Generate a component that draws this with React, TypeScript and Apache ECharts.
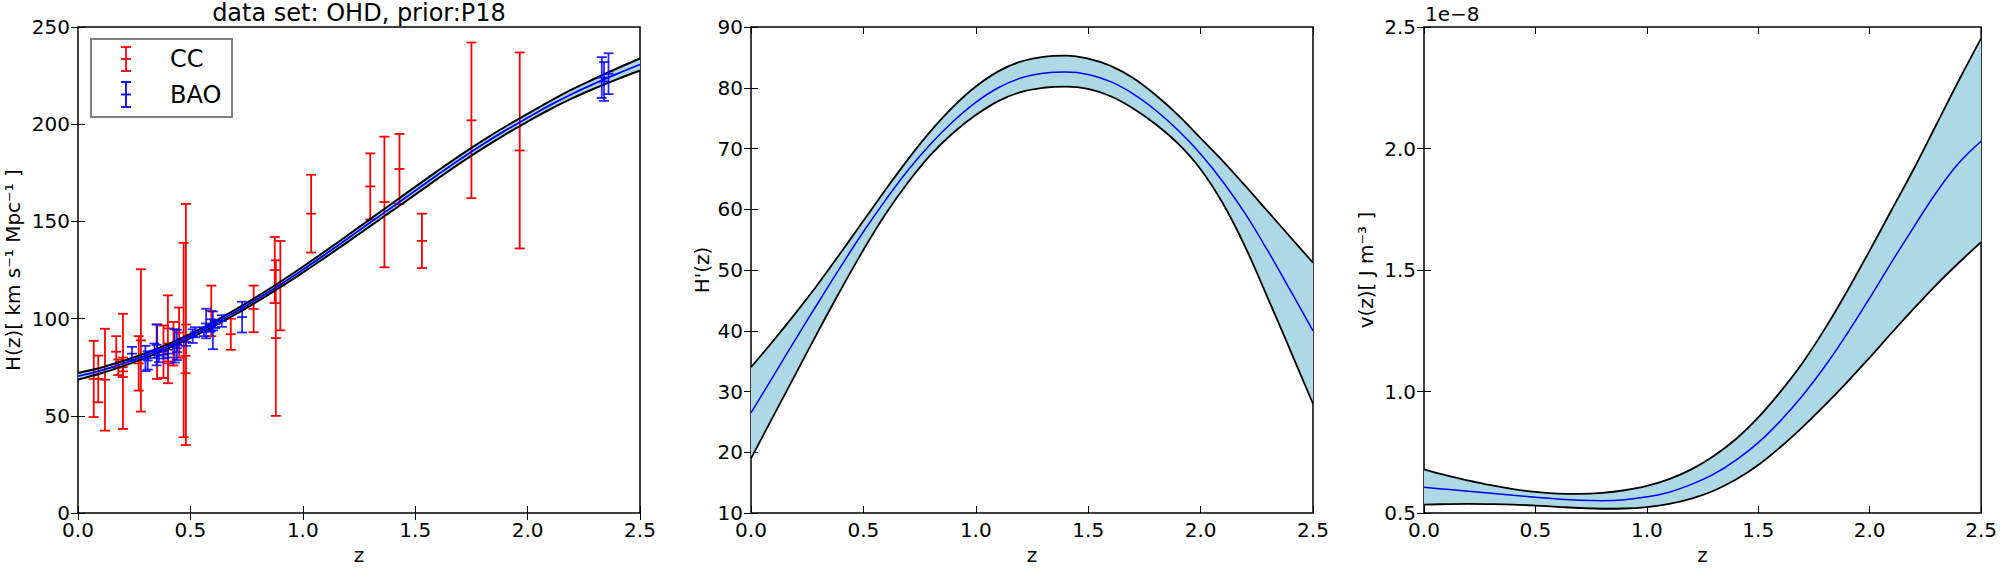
import React, { useEffect, useRef } from "react";
import * as echarts from "echarts";

// ---------- data ----------
const Z_GRID = [0, 0.1, 0.2, 0.3, 0.4, 0.5, 0.6, 0.7, 0.8, 0.9, 1.0, 1.1, 1.2, 1.3, 1.4, 1.5, 1.6, 1.7, 1.8, 1.9, 2.0, 2.1, 2.2, 2.3, 2.4, 2.5];

// Panel 1: reconstructed H(z)
const H_MEAN = [70.4, 73.3, 76.9, 81.0, 85.8, 91.1, 97.0, 103.4, 110.3, 117.6, 125.2, 133.1, 141.2, 149.4, 157.6, 165.8, 174.0, 182.0, 189.6, 196.7, 203.3, 209.8, 215.7, 221.0, 226.0, 230.7];
const H_UPPER = [72.1, 74.8, 78.2, 82.2, 86.9, 92.2, 98.1, 104.6, 111.6, 119.0, 126.7, 134.7, 142.9, 151.2, 159.5, 167.8, 176.0, 184.0, 191.6, 198.7, 205.3, 211.9, 218.0, 223.5, 228.8, 233.8];
const H_LOWER = [68.7, 71.8, 75.6, 79.8, 84.7, 90.0, 95.9, 102.2, 109.0, 116.2, 123.7, 131.5, 139.5, 147.6, 155.7, 163.8, 172.0, 180.0, 187.6, 194.7, 201.3, 207.7, 213.4, 218.5, 223.2, 227.6];

// CC data points
const CC_Z = [0.07, 0.09, 0.12, 0.17, 0.1791, 0.1993, 0.2, 0.27, 0.28, 0.3519, 0.3802, 0.4, 0.4004, 0.4247, 0.4497, 0.47, 0.4783, 0.48, 0.5929, 0.6797, 0.7812, 0.8754, 0.88, 0.9, 1.037, 1.3, 1.363, 1.43, 1.53, 1.75, 1.965];
const CC_H = [69, 69, 68.6, 83, 75, 75, 72.9, 77, 88.8, 83, 83, 95, 77, 87.1, 92.8, 89, 80.9, 97, 104, 92, 105, 125, 90, 117, 154, 168, 160, 177, 140, 202, 186.5];
const CC_ERR = [19.6, 12, 26.2, 8, 4, 5, 29.6, 14, 36.6, 14, 13.5, 17, 10.2, 11.2, 12.9, 50, 9, 62, 13, 8, 12, 17, 40, 23, 20, 17, 33.6, 18, 14, 40, 50.4];

// BAO data points
const BAO_Z = [0.24, 0.3, 0.31, 0.34, 0.35, 0.36, 0.38, 0.4, 0.43, 0.44, 0.44, 0.48, 0.51, 0.52, 0.56, 0.57, 0.59, 0.6, 0.61, 0.64, 0.73, 2.33, 2.34, 2.36];
const BAO_H = [82.0, 79.5, 78.5, 83.5, 86.5, 81.0, 81.5, 82.0, 86.0, 84.8, 86.5, 88.0, 91.0, 93.0, 93.3, 97.5, 96.5, 94.0, 97.3, 98.8, 100.8, 224, 222, 226];
const BAO_ERR = [3.5, 6.5, 4.7, 3.7, 10.5, 3.4, 2.0, 2.0, 8.6, 2.0, 7.8, 2.0, 3.5, 2.6, 2.3, 7.6, 3.2, 9.7, 2.1, 3.0, 7.9, 10.5, 10, 10.5];

// Panel 2: H'(z)
const DH_MEAN = [26.5, 32.6, 38.7, 44.7, 50.6, 56.3, 61.6, 66.5, 70.8, 74.5, 77.6, 80.0, 81.6, 82.4, 82.6, 82.2, 81.0, 79.0, 76.3, 73.0, 69.1, 64.5, 59.2, 53.1, 46.6, 40];
const DH_UPPER = [34, 38.4, 43.0, 47.8, 52.9, 58.1, 63.3, 68.3, 72.9, 76.9, 80.2, 82.7, 84.3, 85.1, 85.3, 84.8, 83.6, 81.6, 78.8, 75.5, 71.7, 67.9, 63.8, 59.6, 55.4, 51.2];
const DH_LOWER = [19, 26, 33, 40, 46.8, 53.3, 59.3, 64.5, 69.0, 72.6, 75.5, 77.8, 79.3, 80.0, 80.2, 79.8, 78.6, 76.6, 74.0, 70.8, 66.6, 60.9, 53.7, 45.3, 36.7, 28];

// Panel 3: v(z), in units of 1e-8 J m^-3
const V_MEAN = [0.606, 0.598, 0.59, 0.582, 0.573, 0.565, 0.558, 0.553, 0.551, 0.555, 0.567, 0.586, 0.618, 0.66, 0.718, 0.79, 0.88, 0.985, 1.105, 1.24, 1.385, 1.535, 1.68, 1.82, 1.94, 2.03];
const V_UPPER = [0.68, 0.655, 0.634, 0.615, 0.599, 0.587, 0.58, 0.579, 0.583, 0.594, 0.612, 0.64, 0.68, 0.735, 0.805, 0.894, 1.0, 1.12, 1.26, 1.415, 1.58, 1.75, 1.92, 2.1, 2.28, 2.453];
const V_LOWER = [0.535, 0.537, 0.538, 0.537, 0.535, 0.531, 0.526, 0.521, 0.518, 0.519, 0.525, 0.538, 0.56, 0.592, 0.638, 0.698, 0.772, 0.855, 0.945, 1.04, 1.14, 1.243, 1.343, 1.44, 1.53, 1.615];

const X_TICKS = { min: 0, max: 2.5, interval: 0.5 };
const Y1_TICKS = { min: 0, max: 250, interval: 50 };
const Y2_TICKS = { min: 10, max: 90, interval: 10 };
const Y3_TICKS = { min: 0.5, max: 2.5, interval: 0.5 };

// ---------- styling ----------
const FONT = "DejaVu Sans";
const BAND = "#add8e6";
const GRIDS = [
  { left: 78, top: 27, width: 562, height: 491 },
  { left: 751, top: 27, width: 562, height: 491 },
  { left: 1424, top: 27, width: 561, height: 491 },
];

function zip(xs: number[], ys: number[]) {
  return xs.map((x, i) => [x, ys[i]]);
}
// [y, x] ordering so that the stacked dimension is the value (y) one
function zipYX(xs: number[], ys: number[]) {
  return xs.map((x, i) => [ys[i], x]);
}

function bandSeries(i: number, lower: number[], upper: number[], mean: number[], edgeWidth: number, meanWidth: number) {
  const common = { type: "line", xAxisIndex: i, yAxisIndex: i, symbol: "none", smooth: 0.4, silent: true };
  return [
    {
      ...common,
      data: zipYX(Z_GRID, lower),
      encode: { x: 1, y: 0 },
      stack: "band" + i,
      lineStyle: { opacity: 0, width: 0 },
      z: 1,
    },
    {
      ...common,
      data: zipYX(Z_GRID, upper.map((u, k) => u - lower[k])),
      encode: { x: 1, y: 0 },
      stack: "band" + i,
      lineStyle: { opacity: 0, width: 0 },
      areaStyle: { color: BAND, opacity: 1 },
      z: 1,
    },
    { ...common, data: zip(Z_GRID, upper), lineStyle: { color: "#000", width: edgeWidth }, z: 3 },
    { ...common, data: zip(Z_GRID, lower), lineStyle: { color: "#000", width: edgeWidth }, z: 3 },
    { ...common, data: zip(Z_GRID, mean), lineStyle: { color: "#0000ff", width: meanWidth }, z: 4 },
  ];
}

const CAP = 5;

function errorbarSeries(zs: number[], hs: number[], es: number[], color: string, zl: number, opacity: number) {
  return {
    type: "custom",
    xAxisIndex: 0,
    yAxisIndex: 0,
    silent: true,
    z: zl,
    data: zs.map((z, i) => [z, hs[i], es[i]]),
    encode: { x: 0, y: 1 },
    renderItem: (_p: any, api: any) => {
      const z = api.value(0);
      const h = api.value(1);
      const e = api.value(2);
      const t = api.coord([z, h + e]);
      const b = api.coord([z, h - e]);
      const m = api.coord([z, h]);
      const style = { stroke: color, lineWidth: 1.8, fill: "none", opacity };
      return {
        type: "group",
        children: [
          { type: "line", shape: { x1: t[0], y1: t[1], x2: b[0], y2: b[1] }, style },
          { type: "line", shape: { x1: t[0] - CAP, y1: t[1], x2: t[0] + CAP, y2: t[1] }, style },
          { type: "line", shape: { x1: b[0] - CAP, y1: b[1], x2: b[0] + CAP, y2: b[1] }, style },
          { type: "line", shape: { x1: m[0] - CAP, y1: m[1], x2: m[0] + CAP, y2: m[1] }, style },
        ],
      };
    },
  };
}

const tickStyle = { inside: true, length: 7, lineStyle: { color: "#000", width: 1 } };
const labelBase = { fontSize: 20, fontFamily: FONT, color: "#000", showMinLabel: true, showMaxLabel: true };
const nameStyle = { fontSize: 20, fontFamily: FONT, color: "#000" };

function xAxes(i: number) {
  return [
    {
      type: "value",
      gridIndex: i,
      ...X_TICKS,
      name: "z",
      nameLocation: "middle",
      nameGap: 30,
      nameTextStyle: nameStyle,
      axisLine: { show: false },
      axisTick: tickStyle,
      axisLabel: { ...labelBase, margin: 7, formatter: (v: number) => v.toFixed(1) },
      splitLine: { show: false },
    },
    {
      type: "value",
      gridIndex: i,
      position: "top",
      ...X_TICKS,
      axisLine: { show: false },
      axisTick: tickStyle,
      axisLabel: { show: false },
      splitLine: { show: false },
    },
  ];
}

function yAxes(i: number, ticks: any, name: string, gap: number, fmt: (v: number) => string) {
  return [
    {
      type: "value",
      gridIndex: i,
      ...ticks,
      name,
      nameLocation: "middle",
      nameRotate: 90,
      nameGap: gap,
      nameTextStyle: nameStyle,
      axisLine: { show: false },
      axisTick: tickStyle,
      axisLabel: { ...labelBase, margin: 8, formatter: fmt },
      splitLine: { show: false },
    },
    {
      type: "value",
      gridIndex: i,
      position: "right",
      ...ticks,
      axisLine: { show: false },
      axisTick: tickStyle,
      axisLabel: { show: false },
      splitLine: { show: false },
    },
  ];
}

function legendGraphic() {
  const icon = (y1: number, y2: number, color: string) => {
    const x = 126;
    const st = { stroke: color, lineWidth: 1.8 };
    const ym = (y1 + y2) / 2;
    return [
      { type: "line", shape: { x1: x, y1, x2: x, y2 }, style: st },
      { type: "line", shape: { x1: x - CAP, y1, x2: x + CAP, y2: y1 }, style: st },
      { type: "line", shape: { x1: x - CAP, y1: y2, x2: x + CAP, y2 }, style: st },
      { type: "line", shape: { x1: x - CAP, y1: ym, x2: x + CAP, y2: ym }, style: st },
    ];
  };
  const txt = (text: string, y: number) => ({
    type: "text",
    x: 170,
    y,
    style: {
      text,
      fill: "#000",
      font: `24px "${FONT}"`,
      fontSize: 24,
      fontFamily: FONT,
      align: "left",
      verticalAlign: "middle",
      textAlign: "left",
      textVerticalAlign: "middle",
    },
  });
  return {
    type: "group",
    z: 100,
    children: [
      {
        type: "rect",
        shape: { x: 91, y: 39, width: 141, height: 78 },
        style: { fill: "#fff", stroke: "#808080", lineWidth: 2 },
      },
      ...icon(47, 71, "#ff0000"),
      ...icon(82, 107, "#0000ff"),
      txt("CC", 59),
      txt("BAO", 95),
    ],
  };
}

function textEl(text: string, x: number, y: number, size: number, align: string) {
  return {
    type: "text",
    x,
    y,
    z: 100,
    style: {
      text,
      fill: "#000",
      font: `${size}px "${FONT}"`,
      fontSize: size,
      fontFamily: FONT,
      align,
      verticalAlign: "middle",
      textAlign: align,
      textVerticalAlign: "middle",
    },
  };
}

export default function App() {
  const ref = useRef<HTMLDivElement>(null);
  useEffect(() => {
    if (!ref.current) return;
    const chart = echarts.init(ref.current, undefined, { renderer: "svg" });
    const xs = [...xAxes(0), ...xAxes(1), ...xAxes(2)];
    const ys = [
      ...yAxes(0, Y1_TICKS, "H(z)[ km s⁻¹ Mpc⁻¹ ]", 55, (v) => String(v)),
      ...yAxes(1, Y2_TICKS, "H'(z)", 39, (v) => String(v)),
      ...yAxes(2, Y3_TICKS, "v(z)[ J m⁻³ ]", 48, (v) => v.toFixed(1)),
    ];
    // bottom axes 0..2, top axes 3..5 ; left axes 0..2, right axes 3..5
    const xAxis = [xs[0], xs[2], xs[4], xs[1], xs[3], xs[5]];
    const yAxis = [ys[0], ys[2], ys[4], ys[1], ys[3], ys[5]];
    const option: any = {
      animation: false,
      backgroundColor: "#fff",
      grid: GRIDS.map((g) => ({ ...g, show: true, borderColor: "#000", borderWidth: 1.5, backgroundColor: "transparent", containLabel: false })),
      xAxis,
      yAxis,
      series: [
        errorbarSeries(CC_Z, CC_H, CC_ERR, "#ff0000", 2, 1),
        ...bandSeries(0, H_LOWER, H_UPPER, H_MEAN, 2, 1.8),
        errorbarSeries(BAO_Z, BAO_H, BAO_ERR, "#0000ff", 5, 0.85),
        ...bandSeries(1, DH_LOWER, DH_UPPER, DH_MEAN, 1.8, 1.5),
        ...bandSeries(2, V_LOWER, V_UPPER, V_MEAN, 1.8, 1.5),
      ],
      graphic: [
        legendGraphic(),
        textEl("data set: OHD, prior:P18", 359, 13, 24, "center"),
        textEl("1e−8", 1425, 14, 20, "left"),
      ],
    };
    chart.setOption(option);
    return () => chart.dispose();
  }, []);
  return <div ref={ref} style={{ position: "absolute", left: 0, top: 0, width: 2000, height: 570 }} />;
}
